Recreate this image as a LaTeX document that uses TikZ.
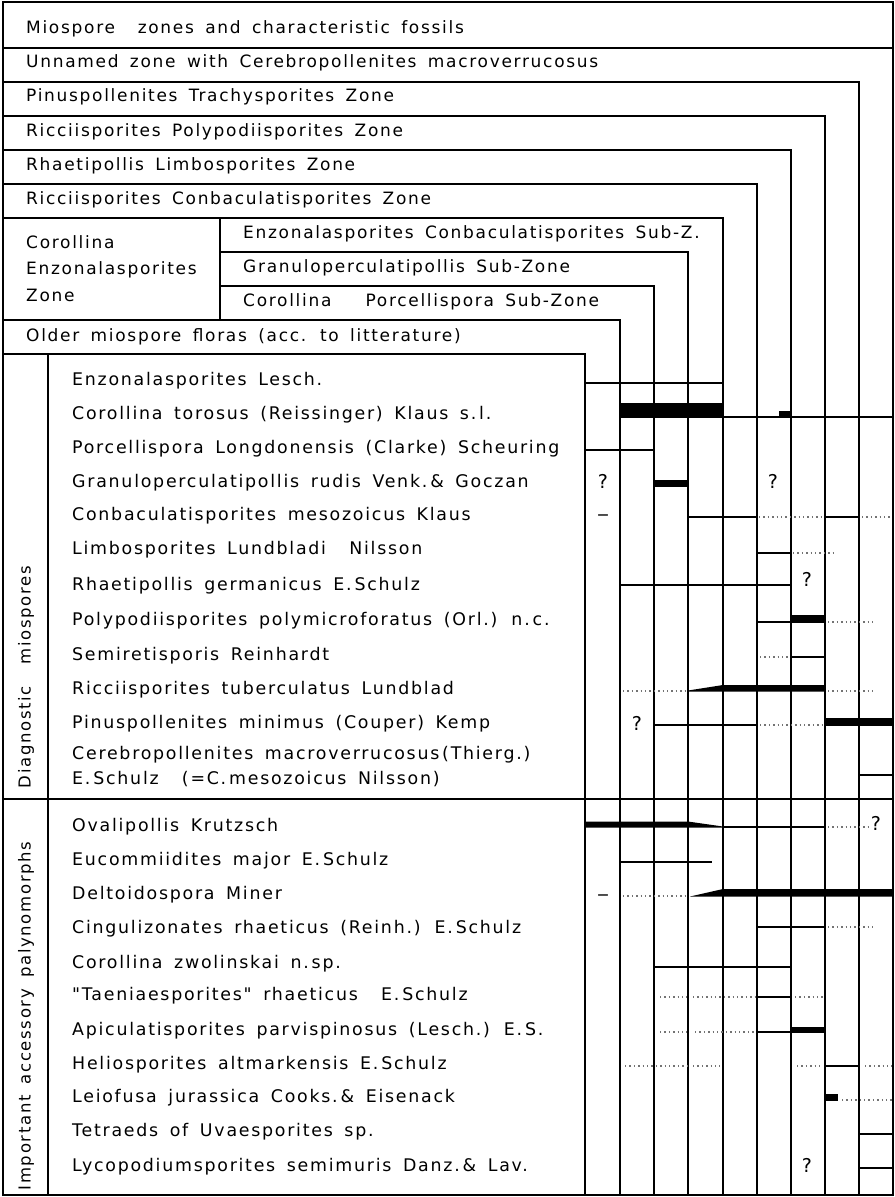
\documentclass[tikz,border=0pt]{standalone}
\usepackage{fontspec}
\setmainfont{DejaVu Sans}
\newfontfamily\wideface[LetterSpace=10,WordSpace=1.6]{DejaVu Sans}
\begin{document}
\begin{tikzpicture}[x=1bp,y=-1bp,
  frame/.style={line width=1.5bp,black},
  outer/.style={line width=2bp,black},
  thinline/.style={line width=1.3bp,black},
  dotline/.style={line width=1.4bp,black!55,dash pattern=on 1.4bp off 3bp},
  barfill/.style={fill=black},
  lbl/.style={anchor=mid west,inner sep=0pt,font=\wideface\fontsize{17bp}{20bp}\selectfont},
  spec/.style={anchor=mid west,inner sep=0pt,font=\wideface\fontsize{17.4bp}{21bp}\selectfont},
  qm/.style={anchor=mid,inner sep=0pt,font=\fontsize{19bp}{22bp}\selectfont},
  dashmark/.style={anchor=center,inner sep=0pt,font=\bfseries\fontsize{11bp}{13bp}\selectfont},
  sidelbl/.style={anchor=mid,inner sep=0pt,rotate=90,font=\wideface\fontsize{16.5bp}{20bp}\selectfont}]
\useasboundingbox (0,0) rectangle (895,1197);
\fill[white] (0,0) rectangle (895,1197);

% ---------- header staircase ----------
\draw[frame] (3,48) -- (893,48);
\draw[frame] (3,82) -- (859,82) -- (859,1195);
\draw[frame] (3,116) -- (825,116) -- (825,1195);
\draw[frame] (3,150) -- (791,150) -- (791,1195);
\draw[frame] (3,184) -- (757,184) -- (757,1195);
\draw[frame] (3,218) -- (723,218) -- (723,1195);
\draw[frame] (220,252) -- (688,252) -- (688,1195);
\draw[frame] (220,286) -- (654,286) -- (654,1195);
\draw[frame] (3,320) -- (620,320) -- (620,1195);
\draw[frame] (220,218) -- (220,320);
\draw[frame] (3,354) -- (585,354) -- (585,1195);
\draw[frame] (48,354) -- (48,1195);
\draw[frame] (3,799) -- (893,799);
\draw[outer] (3,2) rectangle (893,1195);

% header texts
\node[lbl] (h0) at (26,31) {Miospore\ \ zones and characteristic fossils};
\node[lbl] (h1) at (26,65) {Unnamed zone with Cerebropollenites macroverrucosus};
\node[lbl] (h2) at (26,99) {Pinuspollenites\ Trachysporites Zone};
\node[lbl] (h3) at (26,134) {Ricciisporites\ Polypodiisporites\ Zone};
\node[lbl] (h4) at (26,168) {Rhaetipollis\ Limbosporites\ Zone};
\node[lbl] (h5) at (26,202) {Ricciisporites\ Conbaculatisporites Zone};
\node[lbl] (h6a) at (26,246) {Corollina};
\node[lbl] (h6b) at (26,272) {Enzonalasporites};
\node[lbl] (h6c) at (26,299) {Zone};
\node[lbl] (h7) at (243,236) {Enzonalasporites\ Conbaculatisporites Sub-Z.};
\node[lbl] (h8) at (243,270) {Granuloperculatipollis\ Sub-Zone};
\node[lbl] (h9) at (243,304) {Corollina\ \ \ Porcellispora Sub-Zone};
\node[lbl] (h10) at (26,339) {Older\ miospore floras (acc. to litterature)};

% side labels
\node[sidelbl] (sd) at (28,677) {Diagnostic\ \ miospores};
\node[sidelbl] (si) at (28,1016) {Important\ accessory\ palynomorphs};

% species
\node[spec] (s1) at (72,383) {Enzonalasporites\ Lesch.};
\node[spec] (s2) at (72,417) {Corollina torosus (Reissinger) Klaus\ s.\,l.};
\node[spec] (s3) at (72,451) {Porcellispora\ Longdonensis (Clarke) Scheuring};
\node[spec] (s4) at (72,485) {Granuloperculatipollis rudis Venk.\,\& Goczan};
\node[spec] (s5) at (72,518) {Conbaculatisporites\ mesozoicus Klaus};
\node[spec] (s6) at (72,552) {Limbosporites\ Lundbladi\ \ Nilsson};
\node[spec] (s7) at (72,588) {Rhaetipollis\ germanicus E.\,Schulz};
\node[spec] (s8) at (72,623) {Polypodiisporites\ polymicroforatus (Orl.) n.\,c.};
\node[spec] (s9) at (72,658) {Semiretisporis\ Reinhardt};
\node[spec] (s10) at (72,692) {Ricciisporites tuberculatus\ Lundblad};
\node[spec] (s11) at (72,726) {Pinuspollenites\ minimus\ (Couper)\ Kemp};
\node[spec] (s12a) at (72,757) {Cerebropollenites\ macroverrucosus\,(Thierg.)};
\node[spec] (s12b) at (72,782) {E.\,Schulz\ \ (=C.\,mesozoicus\ Nilsson)};
\node[spec] (s13) at (72,829) {Ovalipollis\ Krutzsch};
\node[spec] (s14) at (72,863) {Eucommiidites\ major\ E.\,Schulz};
\node[spec] (s15) at (72,897) {Deltoidospora\ Miner};
\node[spec] (s16) at (72,931) {Cingulizonates\ rhaeticus (Reinh.) E.\,Schulz};
\node[spec] (s17) at (72,966) {Corollina\ zwolinskai\ n.\,sp.};
\node[spec] (s18) at (72,998) {"Taeniaesporites"\ rhaeticus\ \ E.\,Schulz};
\node[spec] (s19) at (72,1033) {Apiculatisporites\ parvispinosus\ (Lesch.) E.\,S.};
\node[spec] (s20) at (72,1067) {Heliosporites\ altmarkensis E.\,Schulz};
\node[spec] (s21) at (72,1100) {Leiofusa\ jurassica\ Cooks.\,\& Eisenack};
\node[spec] (s22) at (72,1134) {Tetraeds of\ Uvaesporites sp.};
\node[spec] (s23) at (72,1169) {Lycopodiumsporites\ semimuris\ Danz.\,\& Lav.};

% ---------- range marks ----------
% 1 Enzonalasporites
\draw[thinline] (585,383) -- (723,383);
% 2 Corollina torosus
\fill[barfill] (620,403) rectangle (723,418);
\draw[thinline] (723,417) -- (893,417);
\fill[barfill] (779,411) rectangle (791,418);
% 3 Porcellispora
\draw[thinline] (585,450) -- (654,450);
% 4 Granuloperculatipollis
\node[qm] (q1) at (603,486) {?};
\fill[barfill] (654,480) rectangle (688,487);
\node[qm] (q2) at (773,486) {?};
% 5 Conbaculatisporites
\node[dashmark] (d1) at (603,517) {—};
\draw[thinline] (688,517) -- (757,517);
\draw[dotline] (759,517) -- (823,517);
\draw[thinline] (825,517) -- (859,517);
\draw[dotline] (862,517) -- (891,517);
% 6 Limbosporites
\draw[thinline] (757,553) -- (791,553);
\draw[dotline] (793,553) -- (837,553);
% 7 Rhaetipollis
\draw[thinline] (620,585) -- (791,585);
\node[qm] (q3) at (807,584) {?};
% 8 Polypodiisporites
\draw[thinline] (757,622) -- (791,622);
\fill[barfill] (791,615) rectangle (825,622.5);
\draw[dotline] (828,622) -- (873,622);
% 9 Semiretisporis
\draw[dotline] (760,657) -- (790,657);
\draw[thinline] (791,657) -- (825,657);
% 10 Ricciisporites
\draw[dotline] (623,691) -- (687,691);
\fill[barfill] (688,690.5) -- (723,685) -- (825,685) -- (825,691.5) -- (688,691.5) -- cycle;
\draw[dotline] (828,691) -- (873,691);
% 11 Pinuspollenites
\node[qm] (q4) at (637,728) {?};
\draw[thinline] (654,725) -- (757,725);
\draw[dotline] (760,725) -- (823,725);
\fill[barfill] (825,718) rectangle (893,726);
% 12 Cerebropollenites
\draw[thinline] (859,775) -- (893,775);
% 13 Ovalipollis
\fill[barfill] (585,821.5) -- (688,821.5) -- (723,826.5) -- (723,827.7) -- (585,827.7) -- cycle;
\draw[thinline] (723,827) -- (825,827);
\draw[dotline] (828,827) -- (868,827);
\node[qm] (q5) at (876,828) {?};
% 14 Eucommiidites
\draw[thinline] (620,862) -- (712,862);
% 15 Deltoidospora
\node[dashmark] (d2) at (603,897) {—};
\draw[dotline] (623,896) -- (687,896);
\fill[barfill] (690,896.5) -- (723,889) -- (893,889) -- (893,896.5) -- cycle;
% 16 Cingulizonates
\draw[thinline] (757,927) -- (825,927);
\draw[dotline] (828,927) -- (873,927);
% 17 Corollina zwolinskai
\draw[thinline] (654,967) -- (791,967);
% 18 Taeniaesporites
\draw[dotline] (660,997) -- (687,997);
\draw[dotline] (693,997) -- (755,997);
\draw[thinline] (757,997) -- (791,997);
\draw[dotline] (795,997) -- (823,997);
% 19 Apiculatisporites
\draw[dotline] (660,1032) -- (687,1032);
\draw[dotline] (695,1032) -- (755,1032);
\draw[thinline] (757,1032) -- (791,1032);
\fill[barfill] (791,1026.5) rectangle (825,1032.5);
% 20 Heliosporites
\draw[dotline] (625,1066) -- (687,1066);
\draw[dotline] (693,1066) -- (720,1066);
\draw[dotline] (797,1066) -- (823,1066);
\draw[thinline] (825,1066) -- (859,1066);
\draw[dotline] (865,1066) -- (892,1066);
% 21 Leiofusa
\fill[barfill] (826,1094) rectangle (838,1101);
\draw[dotline] (842,1100) -- (892,1100);
% 22 Tetraeds
\draw[thinline] (859,1134) -- (893,1134);
% 23 Lycopodiumsporites
\node[qm] (q6) at (807,1170) {?};
\draw[thinline] (859,1168) -- (893,1168);
\end{tikzpicture}
\end{document}
